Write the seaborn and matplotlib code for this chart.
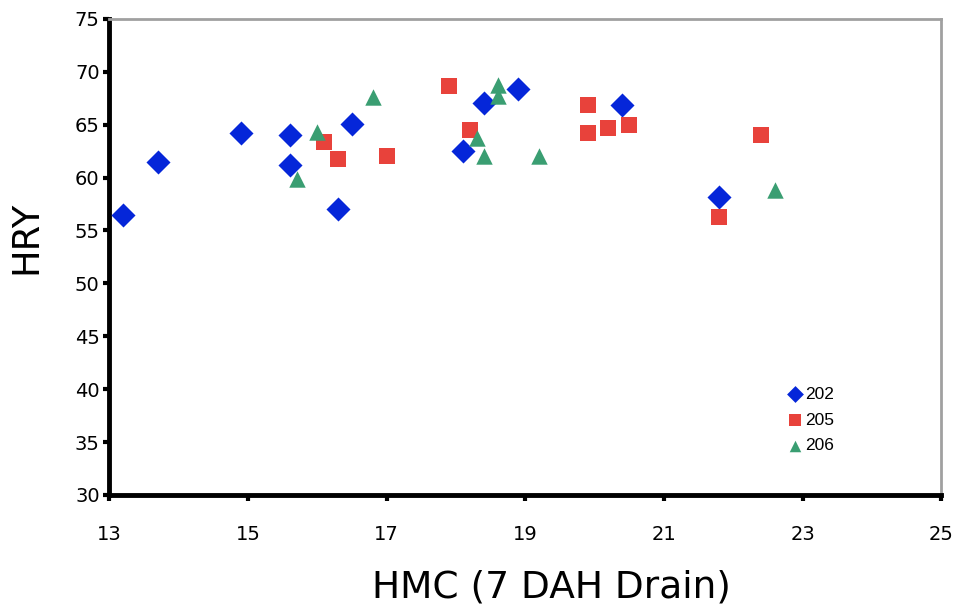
import matplotlib
matplotlib.use("Agg")
import matplotlib.pyplot as plt
import seaborn as sns
import pandas as pd

# Data
hmc_202 = [13.2, 13.7, 14.9, 15.6, 15.6, 16.3, 16.5, 18.4, 18.9, 18.1, 20.4, 21.8]
hry_202 = [56.5, 61.5, 64.2, 64.0, 61.2, 57.0, 65.1, 67.1, 68.4, 62.5, 66.9, 58.2]

hmc_205 = [17.9, 16.1, 16.3, 17.0, 18.2, 19.9, 19.9, 20.2, 20.5, 21.8, 22.4]
hry_205 = [68.7, 63.4, 61.8, 62.0, 64.5, 66.9, 64.2, 64.7, 65.0, 56.3, 64.0]

hmc_206 = [16.8, 16.0, 15.7, 18.6, 18.6, 18.3, 18.4, 19.2, 22.6]
hry_206 = [67.6, 64.3, 59.9, 68.8, 67.7, 63.7, 62.0, 62.0, 58.8]

series = ["202", "205", "206"]
x_ticks = [13, 15, 17, 19, 21, 23, 25]
y_ticks = [30, 35, 40, 45, 50, 55, 60, 65, 70, 75]

df = pd.concat([
    pd.DataFrame({"HMC": hmc_202, "HRY": hry_202, "Line": "202"}),
    pd.DataFrame({"HMC": hmc_205, "HRY": hry_205, "Line": "205"}),
    pd.DataFrame({"HMC": hmc_206, "HRY": hry_206, "Line": "206"}),
])

sns.set_theme(style="white")
plt.rcParams["font.family"] = ["DejaVu Sans"]
plt.rcParams["text.color"] = "black"
plt.rcParams["axes.labelcolor"] = "black"
plt.rcParams["xtick.color"] = "black"
plt.rcParams["ytick.color"] = "black"

fig = plt.figure(figsize=(9.56, 6.11), dpi=100)
ax = fig.add_axes([0.1145, 0.190, 0.870, 0.779])

palette = {"202": "#0526d9", "205": "#e8423b", "206": "#3a9e72"}
markers = {"202": "D", "205": "s", "206": "^"}
sizes_map = {"202": 150, "205": 130, "206": 140}

for s in series:
    sub = df[df["Line"] == s]
    sns.scatterplot(data=sub, x="HMC", y="HRY", color=palette[s], marker=markers[s],
                    s=sizes_map[s], linewidth=0, ax=ax, label=s, zorder=3)

ax.set_xlim(13, 25)
ax.set_ylim(30, 75)
ax.set_xticks(x_ticks)
ax.set_yticks(y_ticks)
ax.tick_params(axis="both", which="major", labelsize=14, length=4, width=3,
               color="black", direction="out", bottom=True, left=True,
               top=False, right=False)
ax.tick_params(axis="x", pad=18)
ax.tick_params(axis="y", pad=3)

for side in ["left", "bottom"]:
    ax.spines[side].set_color("black")
    ax.spines[side].set_linewidth(3.5)
for side in ["top", "right"]:
    ax.spines[side].set_color("#a0a0a0")
    ax.spines[side].set_linewidth(2)

ax.set_xlabel("HMC (7 DAH Drain)", fontsize=27, labelpad=18)
ax.set_ylabel("HRY", fontsize=26.5, labelpad=22)
ax.xaxis.label.set_x(0.532)
ax.yaxis.label.set_y(0.542)

leg = ax.legend(loc="lower right", bbox_to_anchor=(0.89, 0.055), frameon=False,
                handletextpad=0.1, labelspacing=0.6, markerscale=0.7,
                handlelength=1.0,
                prop={"family": ["Liberation Sans Narrow", "Liberation Sans"], "size": 12.5})
for t in leg.get_texts():
    t.set_color("black")

fig.savefig("out.png", dpi=100, facecolor="white")
